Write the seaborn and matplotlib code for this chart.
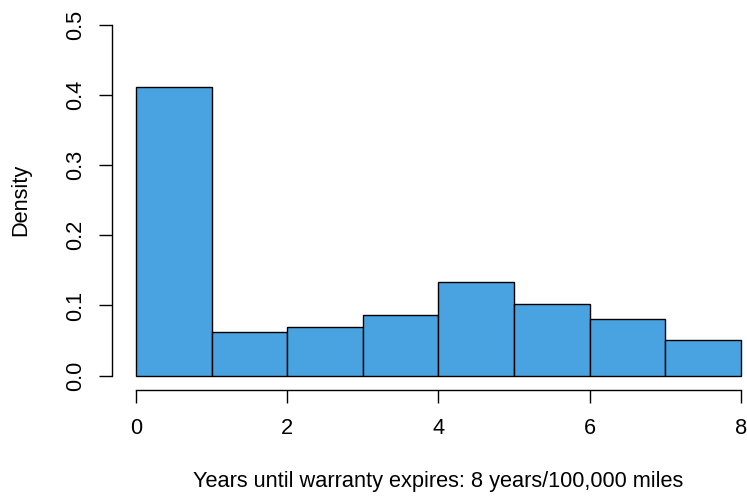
import numpy as np
import pandas as pd
import matplotlib
matplotlib.use("Agg")
import matplotlib.pyplot as plt
import seaborn as sns

# histogram bins (years) and densities
bin_edges = [0, 1, 2, 3, 4, 5, 6, 7, 8]
bin_mids = [0.5, 1.5, 2.5, 3.5, 4.5, 5.5, 6.5, 7.5]
densities = [0.4117, 0.0627, 0.0698, 0.0869, 0.1339, 0.1026, 0.0803, 0.0504]
x_ticks = [0, 2, 4, 6, 8]
y_ticks = [0.0, 0.1, 0.2, 0.3, 0.4, 0.5]

sns.set_style("white")
plt.rcParams['font.family'] = ['Liberation Sans', 'DejaVu Sans']
for key in ["text.color", "axes.labelcolor", "xtick.color", "ytick.color"]:
    plt.rcParams[key] = "black"

df = pd.DataFrame({"years": bin_mids, "density": densities})

fig = plt.figure(figsize=(7.47, 4.97), dpi=100)
ax = fig.add_axes([0.1499, 0.2159, 0.8501, 0.7626])

sns.histplot(data=df, x="years", weights="density", bins=bin_edges,
             stat="count", color="#49a3e0", alpha=1, edgecolor="black",
             linewidth=1, ax=ax)

ax.set_xlim(-0.317, 8.08)
ax.set_ylim(-0.02, 0.52)

for side in ["top", "right"]:
    ax.spines[side].set_visible(False)
ax.spines["left"].set_bounds(0, 0.5)
ax.spines["bottom"].set_bounds(0, 8)
for side in ["left", "bottom"]:
    ax.spines[side].set_color("black")
    ax.spines[side].set_linewidth(1)

fs = 15.7
ax.set_xticks(x_ticks)
ax.set_xticklabels([str(t) for t in x_ticks])
ax.set_yticks(y_ticks)
ax.set_yticklabels([f"{t:.1f}" for t in y_ticks], rotation=90, va="center")
ax.tick_params(axis="both", direction="out", length=9.4, width=1,
               color="black", labelsize=fs, left=True, bottom=True)
ax.tick_params(axis="x", pad=11)
ax.tick_params(axis="y", pad=9)

ax.set_xlabel("Years until warranty expires: 8 years/100,000 miles", fontsize=fs)
ax.set_ylabel("Density", fontsize=fs)
ax.xaxis.set_label_coords(0.587, 0.052, transform=fig.transFigure)
ax.yaxis.set_label_coords(0.042, 0.598, transform=fig.transFigure)

fig.savefig("out.png", dpi=100)
